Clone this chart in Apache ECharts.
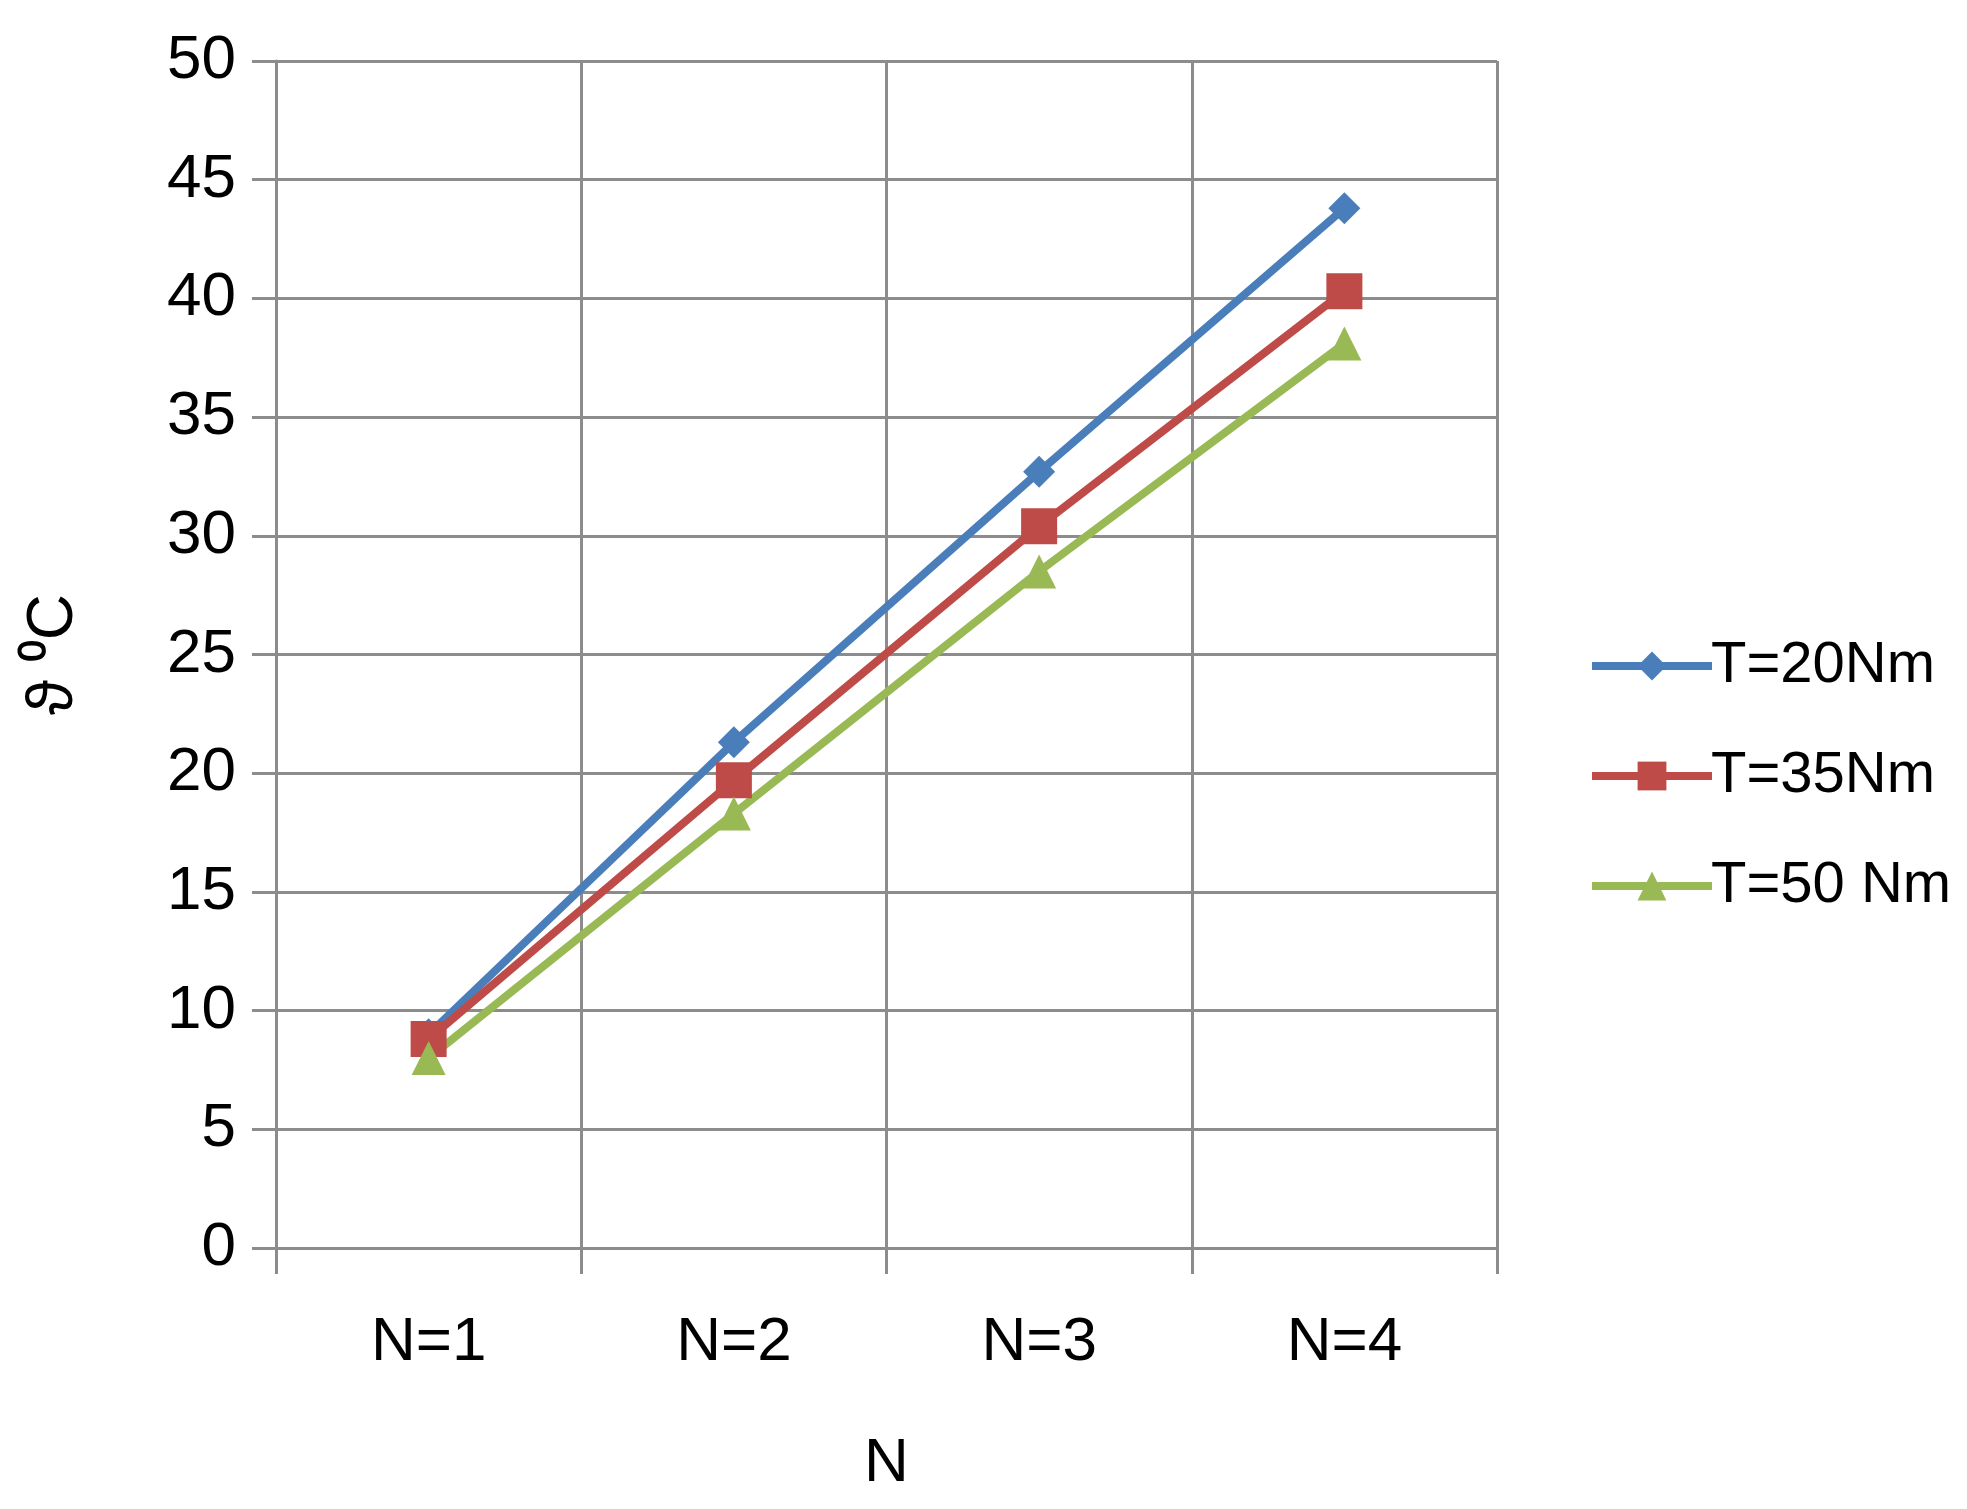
<!DOCTYPE html>
<html>
<head>
<meta charset="utf-8">
<script src="https://cdn.jsdelivr.net/npm/echarts@6/dist/echarts.min.js"></script>
<style>
	html, body { margin: 0; padding: 0; background: #fff; }
	#chart { width: 1967px; height: 1509px; }
</style>
</head>
<body>
<div id="chart"></div>
<script>
const categories = ['N=1', 'N=2', 'N=3', 'N=4'];
const t20 = [9.0, 21.3, 32.7, 43.8];
const t35 = [8.8, 19.7, 30.4, 40.3];
const t50 = [8.0, 18.3, 28.5, 38.1];
const seriesNames = ['T=20Nm', 'T=35Nm', 'T=50 Nm'];

const FONT = '"Liberation Sans Narrow", "Liberation Sans", sans-serif';
const GRID_COLOR = '#8c8c8c';

function makeSeries(name, data, color, symbol, size) {
	return {
		name: name,
		type: 'line',
		data: data,
		symbol: symbol,
		symbolSize: size,
		lineStyle: { color: color, width: 8 },
		itemStyle: { color: color },
		z: 3
	};
}

const chart = echarts.init(document.getElementById('chart'));
chart.setOption({
	animation: false,
	backgroundColor: '#fff',
	grid: { left: 276, right: 470, top: 61, bottom: 261, containLabel: false },
	legend: {
		orient: 'vertical',
		left: 1583,
		top: 632,
		itemGap: 52,
		itemWidth: 120,
		itemHeight: 36,
		itemStyle: { borderWidth: 0 },
		lineStyle: { width: 8 },
		textStyle: { fontFamily: FONT, fontSize: 58, color: '#000', padding: [0, 0, 0, -6] },
		data: seriesNames
	},
	xAxis: {
		type: 'category',
		data: categories,
		boundaryGap: true,
		name: 'N',
		nameLocation: 'middle',
		nameGap: 185,
		nameTextStyle: { fontFamily: FONT, fontSize: 62, color: '#000' },
		axisLine: { show: true, lineStyle: { color: GRID_COLOR, width: 3 } },
		axisTick: { show: true, length: 26, lineStyle: { color: GRID_COLOR, width: 3 } },
		axisLabel: { fontFamily: FONT, fontSize: 62, color: '#000', margin: 64 },
		splitLine: { show: true, lineStyle: { color: GRID_COLOR, width: 3 } }
	},
	yAxis: {
		type: 'value',
		min: 0,
		max: 50,
		interval: 5,
		name: 'ϑ ⁰C',
		nameLocation: 'middle',
		nameGap: 190,
		nameRotate: 90,
		nameTextStyle: { fontFamily: FONT, fontSize: 64, color: '#000' },
		axisLine: { show: true, lineStyle: { color: GRID_COLOR, width: 3 } },
		axisTick: { show: true, length: 24, lineStyle: { color: GRID_COLOR, width: 3 } },
		axisLabel: { fontFamily: FONT, fontSize: 62, color: '#000', margin: 40 },
		splitLine: { show: true, lineStyle: { color: GRID_COLOR, width: 3 } }
	},
	series: [
		makeSeries(seriesNames[0], t20, '#4a7ebb', 'diamond', 32),
		makeSeries(seriesNames[1], t35, '#be4b48', 'rect', 36),
		makeSeries(seriesNames[2], t50, '#98b954', 'triangle', 34)
	]
});
</script>
</body>
</html>
